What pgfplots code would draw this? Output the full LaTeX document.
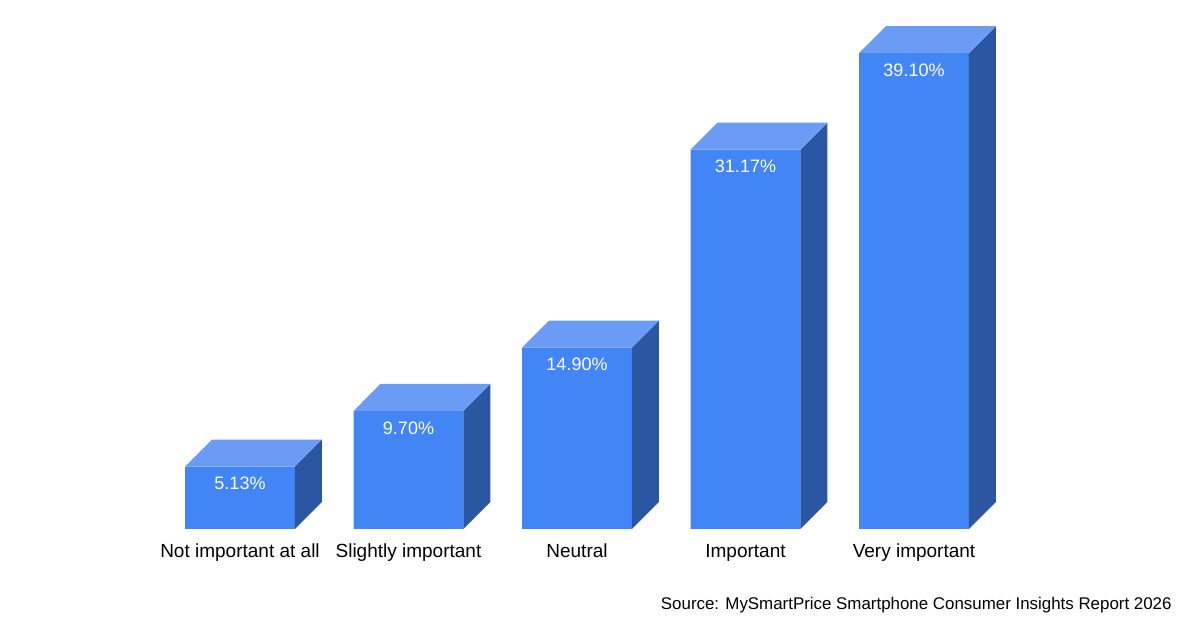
\documentclass[border=0pt]{standalone}
\usepackage{pgfplots}
\pgfplotsset{compat=1.18}
\usepackage{fontspec}
\setmainfont{Liberation Sans}
\definecolor{front}{HTML}{4285F4}
\definecolor{topc}{HTML}{6A9CF6}
\definecolor{side}{HTML}{2A56A2}
\begin{document}
\begin{tikzpicture}
\useasboundingbox (0,0) rectangle (600pt,315pt);
\begin{axis}[
  at={(35.75pt,50.5pt)}, anchor=south west,
  scale only axis, width=505.5pt, height=255.57pt,
  xmin=-1, xmax=5, ymin=0, ymax=42,
  clip=false,
  axis line style={draw=none},
  ytick=\empty,
  xtick={0,1,2,3,4},
  xticklabels={Not important at all,Slightly important,Neutral,Important,Very important},
  major tick length=0pt,
  xticklabel style={anchor=base, yshift=-14.5pt, font=\fontsize{9.5pt}{11pt}\selectfont, text=black},
  /pgf/number format/assume math mode=true,
]
\addplot[ybar, bar width=0.652, fill=front, draw=none,
  nodes near coords={\pgfmathprintnumber[fixed,fixed zerofill,precision=2]{\pgfplotspointmeta}\%},
  every node near coord/.append style={anchor=center, yshift=-8.5pt, text=white, font=\fontsize{9pt}{11pt}\selectfont}]
  coordinates {(0,5.13) (1,9.70) (2,14.90) (3,31.17) (4,39.10)};
% side faces
\addplot[fill=side, draw=none] coordinates {(0.326,0) (0.486,2.22) (0.486,7.35) (0.326,5.13)} -- cycle;
\addplot[fill=side, draw=none] coordinates {(1.326,0) (1.486,2.22) (1.486,11.92) (1.326,9.70)} -- cycle;
\addplot[fill=side, draw=none] coordinates {(2.326,0) (2.486,2.22) (2.486,17.12) (2.326,14.90)} -- cycle;
\addplot[fill=side, draw=none] coordinates {(3.326,0) (3.486,2.22) (3.486,33.39) (3.326,31.17)} -- cycle;
\addplot[fill=side, draw=none] coordinates {(4.326,0) (4.486,2.22) (4.486,41.32) (4.326,39.10)} -- cycle;
% top faces
\addplot[fill=topc, draw=none] coordinates {(-0.326,5.13) (0.326,5.13) (0.486,7.35) (-0.166,7.35)} -- cycle;
\addplot[fill=topc, draw=none] coordinates {(0.674,9.70) (1.326,9.70) (1.486,11.92) (0.834,11.92)} -- cycle;
\addplot[fill=topc, draw=none] coordinates {(1.674,14.90) (2.326,14.90) (2.486,17.12) (1.834,17.12)} -- cycle;
\addplot[fill=topc, draw=none] coordinates {(2.674,31.17) (3.326,31.17) (3.486,33.39) (2.834,33.39)} -- cycle;
\addplot[fill=topc, draw=none] coordinates {(3.674,39.10) (4.326,39.10) (4.486,41.32) (3.834,41.32)} -- cycle;
\end{axis}
\node[anchor=east, font=\fontsize{8.45pt}{10pt}\selectfont, inner sep=0pt] at (586pt,12.5pt) {Source: MySmartPrice Smartphone Consumer Insights Report 2026};
\end{tikzpicture}
\end{document}
